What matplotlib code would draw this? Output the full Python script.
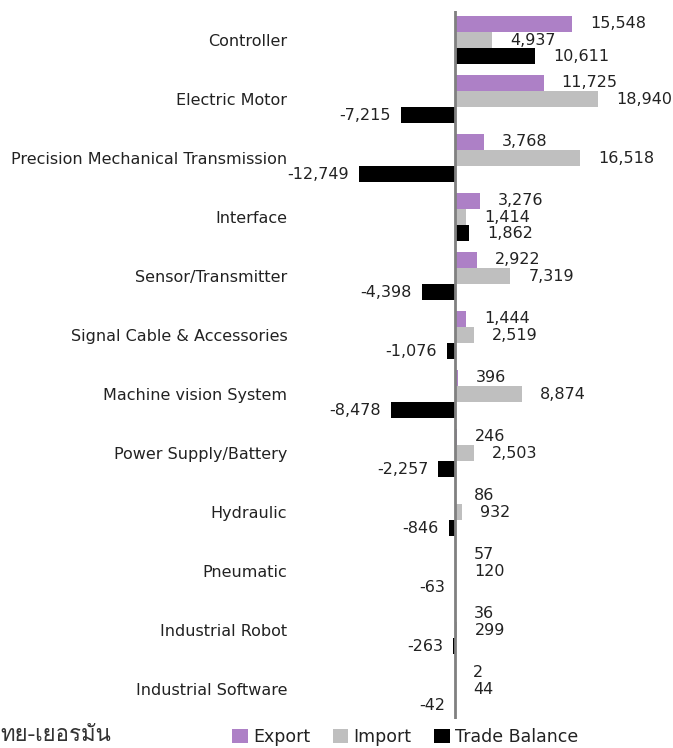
import matplotlib
matplotlib.use("Agg")
import matplotlib.pyplot as plt
from matplotlib import font_manager
from matplotlib.ft2font import FT2Font
import numpy as np

categories = ["Controller", "Electric Motor", "Precision Mechanical Transmission",
              "Interface", "Sensor/Transmitter", "Signal Cable & Accessories",
              "Machine vision System", "Power Supply/Battery", "Hydraulic",
              "Pneumatic", "Industrial Robot", "Industrial Software"]
export_vals = [15548, 11725, 3768, 3276, 2922, 1444, 396, 246, 86, 57, 36, 2]
import_vals = [4937, 18940, 16518, 1414, 7319, 2519, 8874, 2503, 932, 120, 299, 44]
trade_vals = [10611, -7215, -12749, 1862, -4398, -1076, -8478, -2257, -846, -63, -263, -42]
series_names = ["Export", "Import", "Trade Balance"]
colors = ["#AD80C6", "#BFBFBF", "#000000"]
source_text = "ทย-เยอรมัน"

# find an installed family with Thai glyphs
thai_families = []
for fe in font_manager.fontManager.ttflist:
    try:
        cm = FT2Font(fe.fname).get_charmap()
    except Exception:
        continue
    if all(ord(c) in cm for c in source_text):
        if fe.name not in thai_families:
            thai_families.append(fe.name)

families = ['DejaVu Sans'] + thai_families
plt.rcParams['font.family'] = families

fig = plt.figure(figsize=(6.73, 7.48), dpi=100)
ax = fig.add_axes([0.4517, 0.0394, 0.505, 0.9465])

n = len(categories)
y = np.arange(n)
h = 0.275
offsets = [-h, 0, h]
all_series = [export_vals, import_vals, trade_vals]

for vals, off, col, name in zip(all_series, offsets, colors, series_names):
    ax.barh(y + off, vals, height=h, color=col, label=name, zorder=2)
    for yi, v in zip(y, vals):
        if v >= 0:
            ax.annotate(f"{v:,}", (v, yi + off), xytext=(13, 0), textcoords="offset points",
                        ha="left", va="center", fontsize=11.5, color="#222222")
        else:
            ax.annotate(f"{v:,}", (v, yi + off), xytext=(-7, 0), textcoords="offset points",
                        ha="right", va="center", fontsize=11.5, color="#222222")

ax.set_xlim(-20000, 25000)
ax.set_ylim(n - 0.5, -0.5)
ax.axvline(0, color="#808080", lw=2, zorder=3)
ax.set_yticks(y)
ax.set_yticklabels(categories, fontsize=11.5, color="#222222")
ax.tick_params(axis="y", length=0, pad=12)
ax.set_xticks([])
for s in ax.spines.values():
    s.set_visible(False)

fig.legend(loc="center", bbox_to_anchor=(0.602, 0.015), ncol=3, frameon=False,
           fontsize=12.5, handlelength=0.9, handleheight=0.9, handletextpad=0.3,
           columnspacing=1.3, labelcolor="#222222")
fig.text(0.0, 0.017, source_text, fontsize=16, va="center", ha="left", color="#333333",
         family=families[1:] + ['DejaVu Sans'] if thai_families else families)

fig.savefig("out.png", dpi=100)
